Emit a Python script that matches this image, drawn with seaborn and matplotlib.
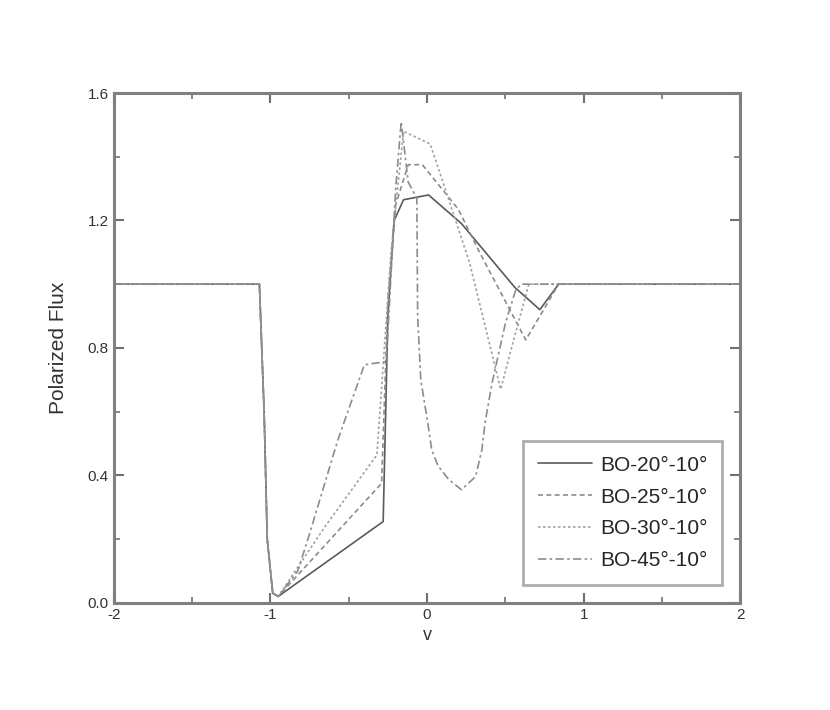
import numpy as np
import pandas as pd
import matplotlib
matplotlib.use("Agg")
import matplotlib.pyplot as plt
from matplotlib.ticker import MultipleLocator
import seaborn as sns

# Polarized flux profiles
labels = ["BO-20°-10°", "BO-25°-10°", "BO-30°-10°", "BO-45°-10°"]

x20 = [-2.0, -1.07, -1.04, -1.02, -0.985, -0.95, -0.28, -0.25, -0.21, -0.15,
       0.01, 0.22, 0.56, 0.72, 0.84, 2.0]
y20 = [1.0, 1.0, 0.6, 0.2, 0.03, 0.02, 0.255, 0.9, 1.2, 1.265,
       1.28, 1.19, 0.99, 0.92, 1.0, 1.0]

x25 = [-2.0, -1.07, -1.04, -1.02, -0.985, -0.95, -0.29, -0.25, -0.2, -0.12,
       -0.03, 0.2, 0.33, 0.63, 0.84, 2.0]
y25 = [1.0, 1.0, 0.6, 0.2, 0.03, 0.02, 0.375, 0.95, 1.25, 1.375,
       1.375, 1.235, 1.105, 0.825, 1.0, 1.0]

x30 = [-2.0, -1.07, -1.04, -1.02, -0.985, -0.95, -0.65, -0.32, -0.23, -0.15,
       0.02, 0.095, 0.27, 0.47, 0.55, 0.65, 2.0]
y30 = [1.0, 1.0, 0.6, 0.2, 0.03, 0.02, 0.24, 0.464, 1.1, 1.48,
       1.44, 1.33, 1.07, 0.67, 0.82, 1.0, 1.0]

x45 = [-2.0, -1.07, -1.04, -1.02, -0.985, -0.95, -0.825, -0.76, -0.57, -0.40,
       -0.26, -0.2, -0.165, -0.12, -0.065, -0.06, -0.04, 0.005, 0.03, 0.07,
       0.14, 0.22, 0.31, 0.35, 0.37, 0.415, 0.50, 0.565, 0.6, 2.0]
y45 = [1.0, 1.0, 0.6, 0.2, 0.03, 0.02, 0.10, 0.2, 0.51, 0.747,
       0.757, 1.3, 1.51, 1.32, 1.27, 0.9, 0.70, 0.564, 0.48, 0.43,
       0.386, 0.355, 0.396, 0.48, 0.564, 0.69, 0.877, 0.98, 1.0, 1.0]

frames = []
for lab, xs, ys in zip(labels, [x20, x25, x30, x45], [y20, y25, y30, y45]):
    frames.append(pd.DataFrame({"v": xs, "flux": ys, "model": lab}))
df = pd.concat(frames, ignore_index=True)

sns.set_style("ticks")
plt.rcParams["font.family"] = ["Liberation Sans", "DejaVu Sans"]
plt.rcParams["axes.unicode_minus"] = False

fig = plt.figure(figsize=(8.3, 7.1), dpi=100)
ax = fig.add_axes([0.137, 0.151, 0.755, 0.718])

palette = {labels[0]: "#5a5a5a", labels[1]: "#8c8c8c",
           labels[2]: "#a0a0a0", labels[3]: "#8c8c8c"}
dashes = {labels[0]: "", labels[1]: (3, 2), labels[2]: (1.5, 1.5),
          labels[3]: (5, 2, 1.5, 2)}

sns.lineplot(data=df, x="v", y="flux", hue="model", style="model",
             palette=palette, dashes=dashes, sort=False, estimator=None,
             units="model", linewidth=1.2, ax=ax)

ax.set_xlim(-2, 2)
ax.set_ylim(0.0, 1.6)
ax.xaxis.set_major_locator(MultipleLocator(1))
ax.xaxis.set_minor_locator(MultipleLocator(0.5))
ax.yaxis.set_major_locator(MultipleLocator(0.4))
ax.yaxis.set_minor_locator(MultipleLocator(0.2))
ax.yaxis.set_major_formatter(plt.FormatStrFormatter("%.1f"))
ax.tick_params(which="both", direction="in", top=True, right=True,
               color="#707070", labelsize=11, labelcolor="#333333")
ax.tick_params(which="major", length=7, width=1.5)
ax.tick_params(which="minor", length=4, width=1.2)
for sp in ax.spines.values():
    sp.set_color("#808080")
    sp.set_linewidth(2.2)

ax.set_xlabel("v", fontsize=13, color="#333333")
ax.set_ylabel("Polarized Flux", fontsize=15, color="#333333", labelpad=14)

leg = ax.legend(loc="lower right", bbox_to_anchor=(0.971, 0.035),
                borderaxespad=0, fontsize=15, frameon=True, fancybox=False,
                handlelength=2.6, handletextpad=0.4, labelspacing=0.62,
                borderpad=0.7)
leg.get_frame().set_edgecolor("#999999")
leg.get_frame().set_linewidth(2)

fig.savefig("out.png", dpi=100)
